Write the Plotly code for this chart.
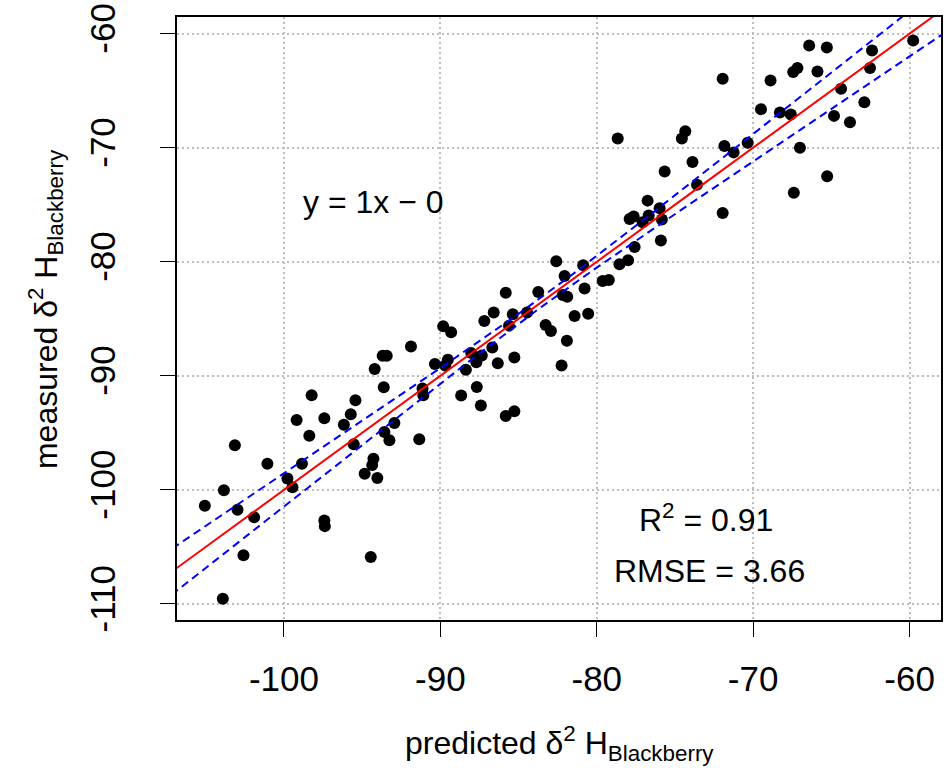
import numpy as np
import plotly.graph_objects as go

# ---- data ----
predicted = [
    -93.62, -98.23, -95.43, -99.19, -97.42, -95.73, -96.17, -92.94, -103.14, -98.38,
    -93.58, -93.26, -95.54, -101.06, -98.85, -94.28, -94.36, -94.84, -94.03, -99.78,
    -99.46, -103.84, -105.06, -102.97, -101.91, -97.42, -97.39, -102.59, -94.45, -103.91,
    -85.82, -86.59, -85.37, -87.19, -85.61, -89.82, -89.31, -91.88, -93.69, -93.43,
    -88.03, -87.35, -86.68, -87.70, -86.33, -85.27, -90.35, -89.52, -89.69, -94.20,
    -88.37, -91.14, -91.09, -88.67, -87.67, -87.41, -91.35, -85.82, -85.27,
    -78.66, -74.56, -74.34, -73.88, -75.66, -73.59, -76.75, -75.98, -77.90, -77.64,
    -76.68, -77.07, -75.84, -75.90, -77.58, -82.59, -78.55, -78.00, -80.87, -82.06,
    -80.78, -82.17, -81.89, -83.74, -79.62, -79.23, -84.46, -81.42, -80.55, -83.27,
    -82.93, -81.91, -82.25,
    -59.77, -66.42, -65.29, -62.40, -62.53, -67.44, -67.17, -65.89, -71.95, -68.89,
    -64.38, -62.89, -69.50, -68.29, -67.59, -64.83, -63.81, -71.84, -71.25, -70.35,
    -67.01, -65.27, -67.40, -71.95,
]
measured = [
    -91.00, -91.70, -92.14, -93.88, -93.73, -93.38, -94.29, -94.14, -96.09, -95.25,
    -94.93, -95.65, -96.00, -97.72, -97.72, -97.28, -97.83, -98.59, -98.96, -99.00,
    -99.78, -100.04, -101.40, -101.75, -102.40, -102.68, -103.18, -105.74, -105.88, -109.55,
    -82.72, -84.44, -84.61, -85.19, -85.60, -85.66, -86.18, -87.43, -88.24, -88.24,
    -88.01, -88.21, -87.52, -88.82, -88.89, -88.39, -88.97, -88.59, -89.09, -89.41,
    -89.46, -91.12, -91.70, -91.73, -90.98, -92.60, -95.56, -93.53, -93.10,
    -69.19, -69.20, -68.56, -71.26, -72.09, -73.25, -74.64, -75.31, -76.25, -76.04,
    -75.95, -76.53, -76.30, -78.13, -78.71, -79.96, -80.22, -79.87, -80.31, -81.24,
    -82.35, -82.92, -83.07, -82.66, -81.68, -81.59, -84.44, -84.75, -84.55, -85.54,
    -86.08, -86.93, -89.09,
    -60.61, -61.04, -61.22, -61.48, -63.02, -63.37, -63.02, -63.31, -63.96, -64.10,
    -64.83, -66.01, -66.62, -66.92, -67.09, -67.21, -67.76, -69.85, -70.41, -69.56,
    -70.00, -72.50, -73.94, -75.72,
]

# fitted model (as printed on the chart) and its confidence band parameters
fit_slope = 1.0
fit_intercept = 0.0
ci_center_halfwidth = 0.42
ci_curvature = 0.00686
ci_xmean = -83.5

x_ticks = [-100, -90, -80, -70, -60]
y_ticks = [-110, -100, -90, -80, -70, -60]
x_range = [-106.84, -57.99]
y_range = [-111.41, -58.54]

eq_text = "y = 1x \u2212 0"
r2_text = "R<sup>2</sup> = 0.91"
rmse_text = "RMSE = 3.66"

# ---- derived lines ----
xl = np.linspace(x_range[0] - 1, x_range[1] + 1, 200)
yfit = fit_slope * xl + fit_intercept
half = np.sqrt(ci_center_halfwidth**2 + ci_curvature * (xl - ci_xmean) ** 2)

FONT = "Liberation Sans, Arial, sans-serif"
FS_TICK = 35
FS = 32

fig = go.Figure()
fig.add_trace(go.Scatter(x=predicted, y=measured, mode="markers",
                         marker=dict(color="black", size=12, line=dict(width=0)),
                         showlegend=False, hoverinfo="skip"))
fig.add_trace(go.Scatter(x=xl, y=yfit, mode="lines",
                         line=dict(color="#FF0000", width=2), showlegend=False))
fig.add_trace(go.Scatter(x=xl, y=yfit + half, mode="lines",
                         line=dict(color="#0000FF", width=2, dash="8px,5px"), showlegend=False))
fig.add_trace(go.Scatter(x=xl, y=yfit - half, mode="lines",
                         line=dict(color="#0000FF", width=2, dash="8px,5px"), showlegend=False))

axis_common = dict(
    showline=True, linecolor="black", linewidth=1.8, mirror=True,
    ticks="outside", ticklen=15, tickwidth=1.4, tickcolor="black",
    showgrid=True, gridcolor="#BDBDBD", gridwidth=1.5, griddash="2px,3px",
    zeroline=False, tickfont=dict(family=FONT, size=FS_TICK, color="black"),
)
fig.update_xaxes(range=x_range, tickvals=x_ticks, ticktext=[f"{v}" for v in x_ticks],
                 ticklabelstandoff=12, **axis_common)
fig.update_yaxes(range=y_range, tickvals=y_ticks, ticktext=[f"{v}" for v in y_ticks],
                 tickangle=-90, ticklabelstandoff=31, **axis_common)

annos = [
    dict(x=-94.28, y=-74.79, xref="x", yref="y", text=eq_text, showarrow=False),
    dict(x=-72.99, y=-102.51, xref="x", yref="y", text=r2_text, showarrow=False),
    dict(x=-72.81, y=-107.13, xref="x", yref="y", text=rmse_text, showarrow=False),
    dict(x=0.5, y=-0.205, xref="paper", yref="paper",
         text="predicted \u03b4<sup>2</sup> H<sub>Blackberry</sub>", showarrow=False),
    dict(x=-0.172, y=0.515, xref="paper", yref="paper", textangle=-90,
         text="measured \u03b4<sup>2</sup> H<sub>Blackberry</sub>", showarrow=False),
]
for a in annos:
    a["font"] = dict(family=FONT, size=FS, color="black")
    a["xanchor"] = "center"
    a["yanchor"] = "middle"
fig.update_layout(annotations=annos)

fig.update_layout(
    width=946, height=768,
    margin=dict(l=177, r=3, t=14, b=148),
    paper_bgcolor="white", plot_bgcolor="white",
)

fig.write_html(
    "out.html",
    config={"displayModeBar": False},
    post_script="document.body.style.margin='0';document.body.style.overflow='hidden';",
)
